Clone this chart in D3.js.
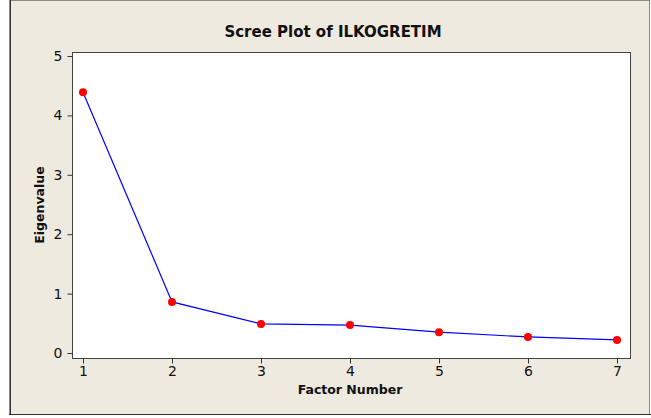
<!DOCTYPE html>
<html>
<head>
<meta charset="utf-8">
<script src="https://cdn.jsdelivr.net/npm/d3@7"></script>
<style>
body { margin: 0; background: #fff; }
svg { display: block; }
</style>
</head>
<body>
<div id="chart"></div>
<script>
// scree plot data
var factorNumbers = [1, 2, 3, 4, 5, 6, 7];
var eigenvalues = [4.39, 0.86, 0.49, 0.47, 0.35, 0.27, 0.22];
var yTicks = [0, 1, 2, 3, 4, 5];
var xTicks = [1, 2, 3, 4, 5, 6, 7];
var titleText = "Scree Plot of ILKOGRETIM";
var xLabel = "Factor Number";
var yLabel = "Eigenvalue";

var W = 651, H = 418;
var plot = { left: 72, right: 630, top: 52, bottom: 358 };
var font = "Tahoma, 'DejaVu Sans', Verdana, sans-serif";

var svg = d3.select("#chart").append("svg")
	.attr("width", W)
	.attr("height", H);

// beige frame
svg.append("rect")
	.attr("x", 0).attr("y", 0)
	.attr("width", W).attr("height", H)
	.attr("fill", "#fff");
svg.append("rect")
	.attr("x", 9.5).attr("y", 0.5)
	.attr("width", 640).attr("height", 414)
	.attr("fill", "#EEEAE0")
	.attr("stroke", "#8a8a8a")
	.attr("stroke-width", 1);
svg.append("line")
	.attr("x1", 9).attr("x2", 651)
	.attr("y1", 414.5).attr("y2", 414.5)
	.attr("stroke", "#333");
svg.append("line")
	.attr("x1", 10.5).attr("x2", 10.5)
	.attr("y1", 0).attr("y2", 415)
	.attr("stroke", "#333");

var x = d3.scaleLinear().domain([1, 7]).range([83, 617]);
var y = d3.scaleLinear().domain([0, 5]).range([353, 56]);

svg.append("rect")
	.attr("x", plot.left + 0.5).attr("y", plot.top + 0.5)
	.attr("width", plot.right - plot.left).attr("height", plot.bottom - plot.top)
	.attr("fill", "#fff")
	.attr("stroke", "#444")
	.attr("stroke-width", 1);

var xAxis = svg.append("g")
	.attr("transform", "translate(0," + (plot.bottom + 0.5) + ")")
	.call(d3.axisBottom(x).tickValues(xTicks).tickSize(5).tickSizeOuter(0).tickPadding(3).tickFormat(d3.format("d")));
var yAxis = svg.append("g")
	.attr("transform", "translate(" + (plot.left + 0.5) + ",0)")
	.call(d3.axisLeft(y).tickValues(yTicks).tickSize(5).tickSizeOuter(0).tickPadding(5).tickFormat(d3.format("d")));

[xAxis, yAxis].forEach(function(a){
	a.select(".domain").remove();
	a.selectAll(".tick line").attr("stroke", "#333");
	a.selectAll(".tick text")
		.attr("fill", "#111")
		.style("font-family", font)
		.style("font-size", "14px");
});

var line = d3.line()
	.x(function(d, i){ return x(factorNumbers[i]); })
	.y(function(d){ return y(d); });

svg.append("path")
	.datum(eigenvalues)
	.attr("d", line)
	.attr("fill", "none")
	.attr("stroke", "#0000FF")
	.attr("stroke-width", 1.2);

svg.selectAll("circle.pt")
	.data(eigenvalues)
	.enter().append("circle")
	.attr("class", "pt")
	.attr("cx", function(d, i){ return x(factorNumbers[i]); })
	.attr("cy", function(d){ return y(d); })
	.attr("r", 4)
	.attr("fill", "#FF0000");

svg.append("text")
	.attr("x", 333).attr("y", 37)
	.attr("text-anchor", "middle")
	.style("font-family", font)
	.style("font-size", "15px")
	.style("font-weight", "bold")
	.attr("fill", "#111")
	.text(titleText);

svg.append("text")
	.attr("x", 350).attr("y", 394)
	.attr("text-anchor", "middle")
	.style("font-family", font)
	.style("font-size", "12.5px")
	.style("font-weight", "bold")
	.attr("fill", "#111")
	.text(xLabel);

svg.append("text")
	.attr("transform", "translate(44,205) rotate(-90)")
	.attr("text-anchor", "middle")
	.style("font-family", font)
	.style("font-size", "12.5px")
	.style("font-weight", "bold")
	.attr("fill", "#111")
	.text(yLabel);
</script>
</body>
</html>
